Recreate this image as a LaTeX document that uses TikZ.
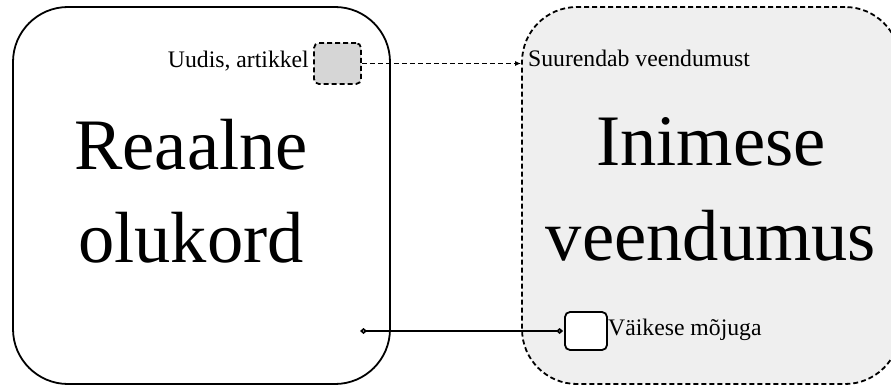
\documentclass[tikz,border=0pt]{standalone}
\usepackage{fontspec}
\setmainfont{Liberation Serif}
\usetikzlibrary{arrows.meta,calc}
\definecolor{paleback}{HTML}{EFEFEF}
\definecolor{newsgray}{HTML}{D6D6D6}
\tikzset{
  bigbox/.style={draw=black, line width=1.8pt, rounded corners=55pt, inner sep=0pt},
  smallbox/.style={draw=black, line width=1.8pt, rounded corners=5pt, inner sep=0pt},
  dashline/.style={dash pattern=on 5pt off 3pt},
  bigtext/.style={font=\fontsize{72.5}{90}\selectfont, inner sep=0pt, anchor=base},
  smalltext/.style={font=\fontsize{23.7}{28}\selectfont, inner sep=0pt},
  link/.style={line width=1.7pt}
}
\begin{document}
\begin{tikzpicture}[x=1pt,y=-1pt]
\clip (0,0) rectangle (891,385);
\fill[white] (0,0) rectangle (891,385);
% left big box
\node[bigbox, minimum width=377pt, minimum height=377pt] (real) at (201.5,195.5) {};
% right big box
\node[bigbox, dashline, fill=paleback, minimum width=378pt, minimum height=377pt] (belief) at (711,195.5) {};
% big texts
\node[bigtext] (real1) at (191,169) {Reaalne};
\node[bigtext] (real2) at (191,262) {olukord};
\node[bigtext] (bel1) at (711,165) {Inimese};
\node[bigtext] (bel2) at (711,260) {veendumus};
% small boxes
\node[smallbox, dashline, fill=newsgray, minimum width=47pt, minimum height=41pt] (news) at (337.5,63.5) {};
\node[smallbox, fill=white, minimum width=42pt, minimum height=38pt] (weak) at (586,331) {};
% labels
\node[smalltext, anchor=base east] (newslbl) at (309,68) {Uudis, artikkel};
\node[smalltext, anchor=base west] (inclbl) at (528,67) {Suurendab veendumust};
\node[smalltext, anchor=base west] (weaklbl) at (608,335) {Väikese mõjuga};
% connectors
\draw[link, dashline, -{Latex[length=6pt,width=5pt]}] (news.east) -- (news.east -| belief.west);
\coordinate (weakstart) at (360,331);
\draw[link, {Diamond[open,length=7pt,width=6pt]}-{Diamond[open,length=7pt,width=6pt]}] (weakstart) -- ($(weak.west)+(-1,0)$);
\end{tikzpicture}
\end{document}
